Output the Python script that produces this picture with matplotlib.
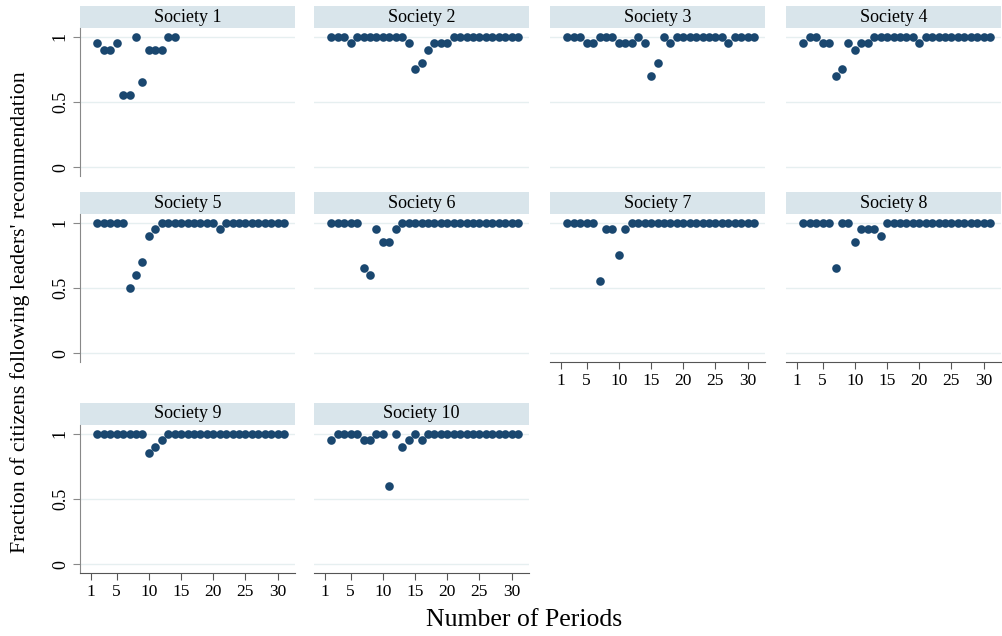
import numpy as np
import matplotlib
matplotlib.use("Agg")
import matplotlib.pyplot as plt
from matplotlib.patches import Rectangle

plt.rcParams['font.family'] = ['Liberation Serif', 'DejaVu Serif']

# Fraction of citizens following the leaders' recommendation, periods 2..31
s1_x = list(range(2, 15))
s1_y = [0.95, 0.90, 0.90, 0.95, 0.55, 0.55, 1.0, 0.65, 0.90, 0.90, 0.90, 1.0, 1.0]

periods = list(range(2, 32))
s2_y = [1, 1, 1, 0.95, 1, 1, 1, 1, 1, 1, 1, 1, 0.95, 0.75, 0.80, 0.90, 0.95, 0.95, 0.95,
        1, 1, 1, 1, 1, 1, 1, 1, 1, 1, 1]
s3_y = [1, 1, 1, 0.95, 0.95, 1, 1, 1, 0.95, 0.95, 0.95, 1, 0.95, 0.70, 0.80, 1, 0.95,
        1, 1, 1, 1, 1, 1, 1, 1, 0.95, 1, 1, 1, 1]
s4_y = [0.95, 1, 1, 0.95, 0.95, 0.70, 0.75, 0.95, 0.90, 0.95, 0.95, 1, 1, 1, 1, 1, 1, 1,
        0.95, 1, 1, 1, 1, 1, 1, 1, 1, 1, 1, 1]
s5_y = [1, 1, 1, 1, 1, 0.50, 0.60, 0.70, 0.90, 0.95, 1, 1, 1, 1, 1, 1, 1, 1, 1, 0.95,
        1, 1, 1, 1, 1, 1, 1, 1, 1, 1]
s6_y = [1, 1, 1, 1, 1, 0.65, 0.60, 0.95, 0.85, 0.85, 0.95, 1, 1, 1, 1, 1, 1, 1, 1, 1,
        1, 1, 1, 1, 1, 1, 1, 1, 1, 1]
s7_y = [1, 1, 1, 1, 1, 0.55, 0.95, 0.95, 0.75, 0.95, 1, 1, 1, 1, 1, 1, 1, 1, 1, 1,
        1, 1, 1, 1, 1, 1, 1, 1, 1, 1]
s8_y = [1, 1, 1, 1, 1, 0.65, 1, 1, 0.85, 0.95, 0.95, 0.95, 0.90, 1, 1, 1, 1, 1, 1, 1,
        1, 1, 1, 1, 1, 1, 1, 1, 1, 1]
s9_y = [1, 1, 1, 1, 1, 1, 1, 1, 0.85, 0.90, 0.95, 1, 1, 1, 1, 1, 1, 1, 1, 1,
        1, 1, 1, 1, 1, 1, 1, 1, 1, 1]
s10_y = [0.95, 1, 1, 1, 1, 0.95, 0.95, 1, 1, 0.60, 1, 0.90, 0.95, 1, 0.95, 1, 1, 1, 1, 1,
         1, 1, 1, 1, 1, 1, 1, 1, 1, 1]

titles = ["Society %d" % i for i in range(1, 11)]
xs = [s1_x] + [periods] * 9
ys = [s1_y, s2_y, s3_y, s4_y, s5_y, s6_y, s7_y, s8_y, s9_y, s10_y]

x_ticks = [1, 5, 10, 15, 20, 25, 30]
y_ticks = [0, 0.5, 1]

W, H = 1002, 636
fig = plt.figure(figsize=(W / 100, H / 100), dpi=100)

col_left = [80, 314, 550, 786]
row_top = [28, 214, 425]   # top of plotting area (below strip)
pw, ph, strip_h = 215, 148, 22
dot_color = "#1a476f"
strip_color = "#d9e5eb"
grid_color = "#e6eff0"

for i in range(10):
    r, c = divmod(i, 4)
    left, top = col_left[c], row_top[r]
    ax = fig.add_axes([left / W, 1 - (top + ph) / H, pw / W, ph / H])
    ax.set_xlim(-0.7, 32.7)
    ax.set_ylim(-0.067, 1.067)
    for g in y_ticks:
        ax.axhline(g, color=grid_color, lw=1, zorder=0)
    ax.plot(xs[i], ys[i], 'o', color=dot_color, ms=6.2, mec='none', zorder=3)

    for s in ax.spines.values():
        s.set_visible(False)

    # strip title
    ax.add_patch(Rectangle((0, 1), 1, strip_h / ph, transform=ax.transAxes,
                           facecolor=strip_color, edgecolor='none', clip_on=False))
    ax.text(0.5, 1 + strip_h / ph / 2, titles[i], transform=ax.transAxes,
            ha='center', va='center', fontsize=13)

    if c == 0:
        ax.spines['left'].set_visible(True)
        ax.spines['left'].set_color('#888888')
        ax.set_yticks(y_ticks)
        ax.set_yticklabels(['0', '0.5', '1'], rotation=90, va='center')
        ax.tick_params(axis='y', length=5, color='#888888', labelsize=13, pad=3)
    else:
        ax.set_yticks([])

    # x axis only on the bottom panel of each column
    if i >= 6:
        ax.spines['bottom'].set_visible(True)
        ax.spines['bottom'].set_color('#555555')
        ax.set_xticks(x_ticks)
        ax.tick_params(axis='x', length=5, color='#555555', labelsize=12.5, pad=3)
    else:
        ax.set_xticks([])

fig.text(20 / W, 1 - 312 / H, "Fraction of citizens following leaders' recommendation",
         rotation=90, ha='center', va='center', fontsize=15.7)
fig.text(524 / W, 1 - 620 / H, "Number of Periods", ha='center', va='center', fontsize=18.5)

fig.savefig("out.png", dpi=100, facecolor='white')
